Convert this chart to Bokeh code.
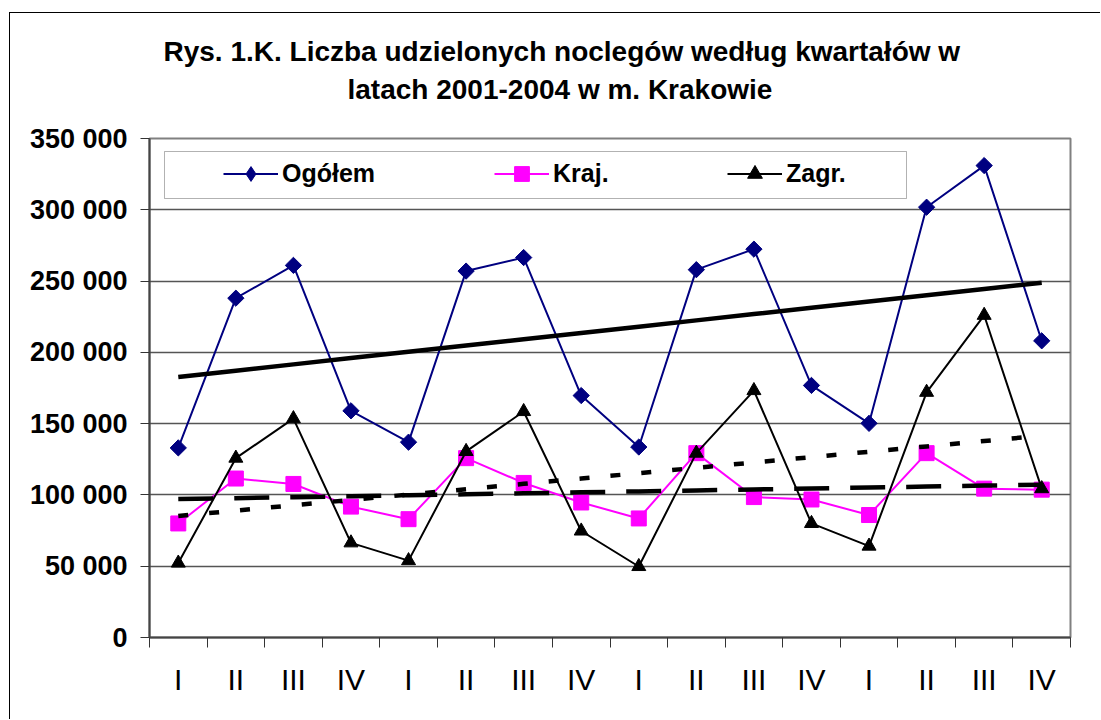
import numpy as np
from bokeh.plotting import figure
from bokeh.models import (FixedTicker, Legend, LegendItem, Title, BoxAnnotation, Range1d)
from bokeh.embed import file_html
from bokeh.resources import INLINE

# ---- data ----
quarters = ["I", "II", "III", "IV", "I", "II", "III", "IV",
            "I", "II", "III", "IV", "I", "II", "III", "IV"]
x_pos = list(range(1, 17))
ogolem = [133000, 238000, 261000, 159000, 137000, 257000, 266500, 169700,
          133600, 258000, 272400, 176800, 150200, 301800, 331000, 208100]
kraj = [80000, 111500, 107700, 91800, 83000, 125800, 108400, 94700,
        83500, 129300, 98500, 96800, 85900, 129300, 104400, 103700]
zagr = [52200, 125800, 153500, 66400, 53900, 130500, 158500, 74700,
        49800, 129300, 173200, 80000, 64100, 172000, 226000, 104400]
y_ticks = [0, 50000, 100000, 150000, 200000, 250000, 300000, 350000]
y_tick_labels = ["0", "50 000", "100 000", "150 000", "200 000", "250 000", "300 000", "350 000"]
title_lines = ["Rys. 1.K. Liczba udzielonych noclegów według kwartałów w",
               "latach 2001-2004 w m. Krakowie"]
series_names = ["Ogółem", "Kraj.", "Zagr."]

FONT = "Liberation Sans"

p = figure(width=1091, height=707, output_backend="svg", toolbar_location=None,
           x_range=Range1d(0.5, 16.5), y_range=Range1d(0, 350000),
           min_border_left=139, min_border_right=31, min_border_top=125,
           min_border_bottom=83, title=None)
p.styles = {"border-left": "1px solid black", "border-top": "1px solid black",
            "margin-top": "12px", "margin-left": "9px"}
p.background_fill_color = "white"
p.border_fill_color = "white"
p.outline_line_color = "#808080"
p.outline_line_width = 2

# y axis
p.yaxis.ticker = FixedTicker(ticks=y_ticks, minor_ticks=[])
p.yaxis.major_label_overrides = {t: l for t, l in zip(y_ticks, y_tick_labels)}
p.yaxis.major_label_text_font = FONT
p.yaxis.major_label_text_font_style = "bold"
p.yaxis.major_label_text_font_size = "27px"
p.yaxis.major_label_text_color = "black"
p.yaxis.major_tick_out = 9
p.yaxis.major_tick_in = 0
p.yaxis.major_tick_line_color = "#333333"
p.yaxis.minor_tick_line_color = None
p.yaxis.major_label_standoff = 13
p.yaxis.axis_line_color = "#444444"
p.yaxis.axis_line_width = 2

# x axis
p.xaxis.ticker = FixedTicker(ticks=x_pos, minor_ticks=[i + 0.5 for i in range(0, 17)])
p.xaxis.major_label_overrides = {x: q for x, q in zip(x_pos, quarters)}
p.xaxis.major_label_text_font = FONT
p.xaxis.major_label_text_font_style = "normal"
p.xaxis.major_label_text_font_size = "30px"
p.xaxis.major_label_text_color = "black"
p.xaxis.major_tick_out = 0
p.xaxis.major_tick_in = 0
p.xaxis.major_tick_line_color = None
p.xaxis.minor_tick_out = 10
p.xaxis.minor_tick_in = 0
p.xaxis.minor_tick_line_color = "#333333"
p.xaxis.minor_tick_line_width = 1
p.xaxis.major_label_standoff = 15
p.xaxis.axis_line_color = "#444444"
p.xaxis.axis_line_width = 2

p.xgrid.grid_line_color = None
p.ygrid.ticker = FixedTicker(ticks=y_ticks)
p.ygrid.grid_line_color = "#555555"
p.ygrid.grid_line_width = 1.5

# series
r_og_l = p.line(x_pos, ogolem, line_color="#000080", line_width=2)
r_og_m = p.scatter(x_pos, ogolem, marker="square", angle=np.pi / 4, size=11.5,
                   fill_color="#000080", line_color="#000080")
r_og_leg = p.scatter(x_pos, ogolem, marker="diamond", size=15,
                     fill_color="#000080", line_color="#000080", visible=False)
r_kr_l = p.line(x_pos, kraj, line_color="#FF00FF", line_width=2)
r_kr_m = p.scatter(x_pos, kraj, marker="square", size=15,
                   fill_color="#FF00FF", line_color="#FF00FF")
r_za_l = p.line(x_pos, zagr, line_color="black", line_width=2)
r_za_m = p.scatter(x_pos, zagr, marker="triangle", size=14,
                   fill_color="black", line_color="black")

# linear trends (least squares, as in the original spreadsheet)
xa = np.array(x_pos, dtype=float)
for ser, dash in [(ogolem, "solid"), (kraj, "35 21"), (zagr, "10 21")]:
    k, b = np.polyfit(xa, np.array(ser, dtype=float), 1)
    p.line(xa, k * xa + b, line_color="black", line_width=4.5, line_dash=dash)

# legend box
p.add_layout(BoxAnnotation(left=153, right=895, top=137, bottom=184,
                           left_units="canvas", right_units="canvas",
                           top_units="canvas", bottom_units="canvas",
                           fill_color="white", fill_alpha=1.0,
                           line_color="black", line_width=1, level="underlay"))

for name, rends, vx in [(series_names[0], [r_og_l, r_og_leg], 74),
                        (series_names[1], [r_kr_l, r_kr_m], 345),
                        (series_names[2], [r_za_l, r_za_m], 578)]:
    lg = Legend(items=[LegendItem(label=name, renderers=rends)],
                location=(vx, 445), orientation="horizontal",
                padding=0, margin=0, spacing=0,
                glyph_width=55, glyph_height=37, label_standoff=4,
                label_text_font=FONT, label_text_font_style="bold",
                label_text_font_size="25px", label_text_color="black",
                background_fill_alpha=0, border_line_alpha=0,
                inactive_fill_alpha=0)
    p.add_layout(lg, "center")

# title: spacer, then line 2, then line 1 (stacked upward from the frame)
p.add_layout(Title(text=" ", text_font_size="1px", standoff=31), "above")
p.add_layout(Title(text=title_lines[1], align="left", offset=198, standoff=0,
                   text_font=FONT, text_font_style="bold", text_font_size="28px",
                   text_color="black"), "above")
p.add_layout(Title(text=title_lines[0], align="left", offset=14, standoff=9,
                   text_font=FONT, text_font_style="bold", text_font_size="28px",
                   text_color="black"), "above")

open("out.html", "w").write(file_html(p, INLINE))
